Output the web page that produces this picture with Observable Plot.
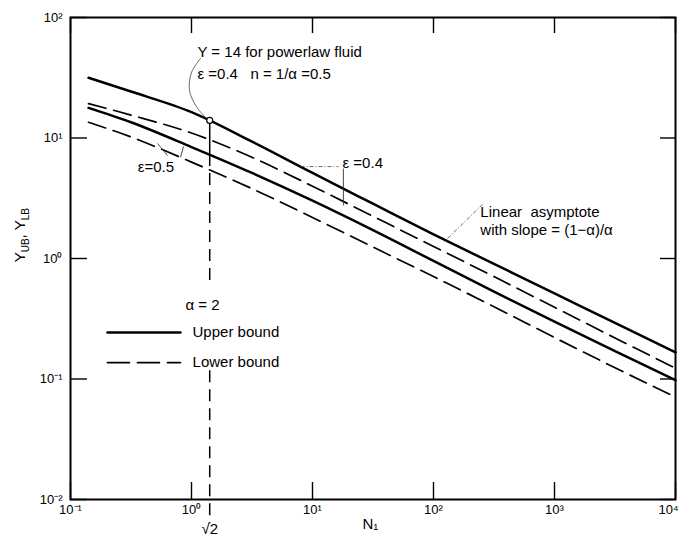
<!DOCTYPE html>
<html><head><meta charset="utf-8">
<script src="https://cdn.jsdelivr.net/npm/d3@7"></script>
<script src="https://cdn.jsdelivr.net/npm/@observablehq/plot@0.6"></script>
<style>html,body{margin:0;padding:0;background:#fff;} #chart svg{display:block;}</style>
</head><body><div id="chart"></div>
<script>
// Data (log–log)
const N = [0.141, 0.316, 1, 3.16, 10, 31.6, 100, 316, 1000, 3162, 10000];
const upper_eps04 = [31.6, 24.3, 16.4, 9.33, 5.13, 2.85, 1.585, 0.902, 0.513, 0.292, 0.166];
const lower_eps04 = [19.3, 15.5, 11.0, 6.92, 3.98, 2.24, 1.26, 0.708, 0.394, 0.219, 0.123];
const upper_eps05 = [17.8, 13.5, 8.41, 5.13, 3.02, 1.72, 0.955, 0.531, 0.299, 0.170, 0.0977];
const lower_eps05 = [13.5, 10.2, 6.31, 3.80, 2.19, 1.245, 0.708, 0.398, 0.221, 0.124, 0.0708];

// marked point: Y = 14 at N = sqrt(2) (powerlaw fluid, alpha = 2)
const sqrt2 = Math.SQRT2;
const yMarked = 14;
const yUpper05AtSqrt2 = 7.3;

const xTicks = [0.1, 1, 10, 100, 1000, 10000];
const xTickLabels = ["10⁻¹", "10⁰", "10¹", "10²", "10³", "10⁴"];
const yTicks = [0.01, 0.1, 1, 10, 100];
const yTickLabels = ["10⁻²", "10⁻¹", "10⁰", "10¹", "10²"];

const series = [
  {key: "UB eps 0.4", bound: "upper", values: upper_eps04},
  {key: "LB eps 0.4", bound: "lower", values: lower_eps04},
  {key: "UB eps 0.5", bound: "upper", values: upper_eps05},
  {key: "LB eps 0.5", bound: "lower", values: lower_eps05}
];
const rows = series.flatMap(s => N.map((n, i) => ({N: n, Y: s.values[i], key: s.key, bound: s.bound})));

// Annotations (in data coordinates)
const notes = [
  {text: "Y = 14 for powerlaw fluid", N: 1.12, Y: 52},
  {text: "ε =0.4   n = 1/α =0.5", N: 1.12, Y: 33.7},
  {text: "ε=0.5", N: 0.36, Y: 5.69},
  {text: "ε =0.4", N: 17.7, Y: 6.14},
  {text: "Linear  asymptote", N: 244, Y: 2.41},
  {text: "with slope = (1−α)/α", N: 244, Y: 1.71},
  {text: "α = 2", N: 0.891, Y: 0.407},
  {text: "Upper bound", N: 1.02, Y: 0.243},
  {text: "Lower bound", N: 1.02, Y: 0.137}
];
const legendSolid = [{N: 0.202, Y: 0.243}, {N: 0.811, Y: 0.243}];
const legendDashed = [{N: 0.202, Y: 0.137}, {N: 0.811, Y: 0.137}];
const leaderCurve = [
  {N: 1.186, Y: 45.7}, {N: 1.0, Y: 35.0}, {N: 0.962, Y: 24.8}, {N: 1.099, Y: 18.2}, {N: 1.33, Y: 14.5}
];
const leaderSegments = [
  {x1: 0.524, y1: 9.0, x2: 0.634, y2: 7.16, dashed: false},
  {x1: 0.859, y1: 8.5, x2: 0.811, y2: 6.89, dashed: false},
  {x1: 7.96, y1: 5.79, x2: 16.4, y2: 5.79, dashed: true},
  {x1: 18.0, y1: 5.58, x2: 18.0, y2: 2.75, dashed: false},
  {x1: 130.6, y1: 1.466, x2: 254, y2: 2.81, dashed: true}
];
// dashed vertical at sqrt(2): interrupted behind the "α = 2" / legend text
const sqrt2Dashes = [
  {y1: yUpper05AtSqrt2, y2: 0.594},
  {y1: 0.117, y2: 0.0063}
];

const font = "Liberation Sans, Arial, Helvetica, sans-serif";

const plot = Plot.plot({
  width: 679,
  height: 545,
  marginLeft: 70,
  marginRight: 4,
  marginTop: 17,
  marginBottom: 46,
  style: {fontFamily: font, fontSize: "13px", background: "#fff", color: "#000", overflow: "visible"},
  x: {type: "log", domain: [0.1, 10000], axis: null},
  y: {type: "log", domain: [0.01, 100], axis: null},
  marks: [
    // inward ticks
    Plot.tickX(xTicks, {x: d => d, insetTop: 465, stroke: "#000", strokeWidth: 1.4}),
    Plot.tickX(xTicks, {x: d => d, insetBottom: 466, stroke: "#000", strokeWidth: 1.4}),
    Plot.tickY(yTicks, {y: d => d, insetRight: 588, stroke: "#000", strokeWidth: 1.4}),
    Plot.tickY(yTicks, {y: d => d, insetLeft: 590, stroke: "#000", strokeWidth: 1.4}),
    Plot.frame({stroke: "#000", strokeWidth: 2}),
    // tick labels
    Plot.text(xTicks.slice(0, -1), {x: d => d, text: (d, i) => xTickLabels[i], frameAnchor: "bottom", dy: 14, fontSize: 13}),
    Plot.text(xTicks.slice(-1), {x: d => d, text: () => xTickLabels[xTickLabels.length - 1], frameAnchor: "bottom", dy: 14, dx: 3, textAnchor: "end", fontSize: 13}),
    Plot.text(yTicks, {y: d => d, text: (d, i) => yTickLabels[i], frameAnchor: "left", dx: -8, textAnchor: "end", fontSize: 13}),
    // axis labels
    Plot.text([30.1], {x: d => d, text: () => "N₁", frameAnchor: "bottom", dy: 29, fontSize: 15}),
    Plot.text([0.93], {y: d => d, text: () => "Y_UB, Y_LB", frameAnchor: "left", dx: -50, rotate: -90, fontSize: 15}),
    Plot.text([sqrt2], {x: d => d, text: () => "√2", frameAnchor: "bottom", dy: 34, fontSize: 15}),
    // vertical line at sqrt(2)
    Plot.ruleX([sqrt2], {x: d => d, y1: yMarked, y2: yUpper05AtSqrt2, stroke: "#000", strokeWidth: 1.5}),
    Plot.ruleX(sqrt2Dashes, {x: () => sqrt2, y1: "y1", y2: "y2", stroke: "#000", strokeWidth: 1.5, strokeDasharray: "12,7"}),
    // curves
    Plot.line(rows.filter(d => d.bound === "upper"), {x: "N", y: "Y", z: "key", stroke: "#000", strokeWidth: 2.5, curve: "monotone-x"}),
    Plot.line(rows.filter(d => d.bound === "lower"), {x: "N", y: "Y", z: "key", stroke: "#000", strokeWidth: 1.7, strokeDasharray: "18,8", curve: "monotone-x"}),
    // leaders
    Plot.line(leaderCurve, {x: "N", y: "Y", stroke: "#444", strokeWidth: 0.8, curve: "catmull-rom"}),
    Plot.link(leaderSegments.filter(d => !d.dashed), {x1: "x1", y1: "y1", x2: "x2", y2: "y2", stroke: "#333", strokeWidth: 0.9}),
    Plot.link(leaderSegments.filter(d => d.dashed), {x1: "x1", y1: "y1", x2: "x2", y2: "y2", stroke: "#444", strokeWidth: 0.8, strokeDasharray: "4,2,1,2"}),
    Plot.dot([{N: sqrt2, Y: yMarked}], {x: "N", y: "Y", r: 3, stroke: "#000", fill: "#fff", strokeWidth: 1.2}),
    // legend samples
    Plot.line(legendSolid, {x: "N", y: "Y", stroke: "#000", strokeWidth: 2.5}),
    Plot.line(legendDashed, {x: "N", y: "Y", stroke: "#000", strokeWidth: 1.7, strokeDasharray: "22,8"}),
    // annotation text
    Plot.text(notes, {x: "N", y: "Y", text: "text", textAnchor: "start", fontSize: 15})
  ]
});

// subscripts in the y label
d3.select(plot).selectAll("text").filter(function() { return this.textContent === "Y_UB, Y_LB"; }).each(function() {
  const t = d3.select(this);
  t.text(null);
  t.append("tspan").text("Y");
  t.append("tspan").attr("dy", 4).attr("font-size", 10).text("UB");
  t.append("tspan").attr("dy", -4).text(", Y");
  t.append("tspan").attr("dy", 4).attr("font-size", 10).text("LB");
});

document.getElementById("chart").appendChild(plot);
</script>
</body></html>
